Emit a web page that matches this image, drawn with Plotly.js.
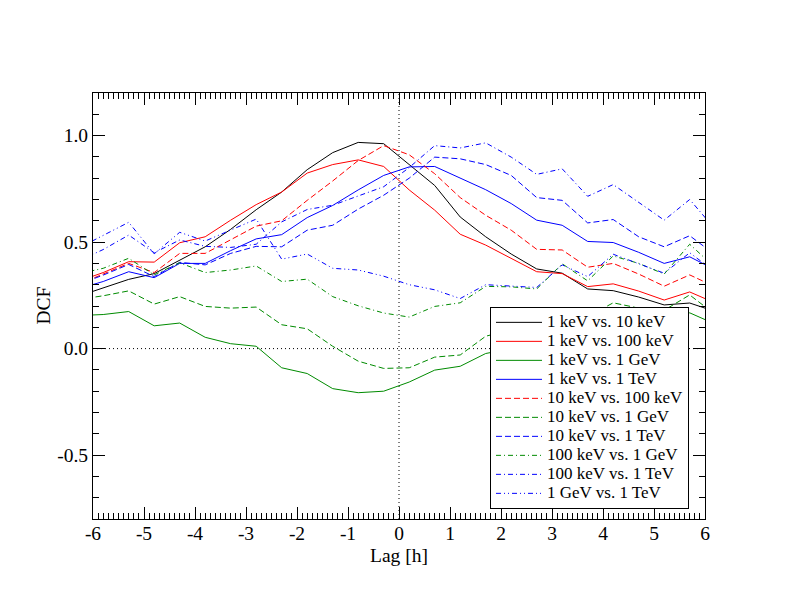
<!DOCTYPE html>
<html>
<head>
<meta charset="utf-8">
<script src="https://cdn.plot.ly/plotly-3.0.1.min.js"></script>
<style>
  body { margin: 0; background: #fff; }
  #myPlot { width: 792px; height: 612px; }
</style>
</head>
<body>
<div id="myPlot"></div>
<script>
// lag bins [h]
let lag = [-6.3, -5.8, -5.3, -4.8, -4.3, -3.8, -3.3, -2.8, -2.3, -1.8, -1.3, -0.8, -0.3,
  0.2, 0.7, 1.2, 1.7, 2.2, 2.7, 3.2, 3.7, 4.2, 4.7, 5.2, 5.7, 6.2];

// DCF values
let kev1_kev10 = [0.245, 0.285, 0.325, 0.352, 0.415, 0.478, 0.56, 0.652, 0.735, 0.84, 0.92, 0.968, 0.962,
  0.862, 0.766, 0.618, 0.525, 0.444, 0.374, 0.354, 0.28, 0.272, 0.242, 0.205, 0.214, 0.174];
let kev1_kev100 = [0.315, 0.357, 0.408, 0.406, 0.497, 0.525, 0.603, 0.676, 0.735, 0.824, 0.864, 0.886, 0.855,
  0.745, 0.65, 0.537, 0.486, 0.424, 0.361, 0.352, 0.291, 0.304, 0.27, 0.228, 0.266, 0.214];
let kev1_gev1 = [0.155, 0.16, 0.174, 0.107, 0.12, 0.053, 0.023, 0.011, -0.09, -0.117, -0.188, -0.207, -0.2,
  -0.157, -0.101, -0.083, -0.023, 0.0, 0.04, 0.07, 0.06, 0.1, 0.09, 0.11, 0.168, 0.115];
let kev1_tev1 = [0.28, 0.315, 0.361, 0.333, 0.4, 0.4, 0.46, 0.515, 0.535, 0.615, 0.672, 0.745, 0.813,
  0.853, 0.855, 0.802, 0.746, 0.681, 0.603, 0.579, 0.503, 0.498, 0.452, 0.4, 0.431, 0.37];
let kev10_kev100 = [0.30, 0.35, 0.40, 0.357, 0.447, 0.447, 0.509, 0.575, 0.60, 0.696, 0.787, 0.883, 0.953,
  0.91, 0.821, 0.709, 0.626, 0.556, 0.466, 0.463, 0.382, 0.40, 0.35, 0.293, 0.346, 0.29];
let kev10_gev1 = [0.23, 0.248, 0.271, 0.209, 0.244, 0.198, 0.19, 0.195, 0.112, 0.093, 0.011, -0.059, -0.093,
  -0.09, -0.04, -0.03, 0.058, 0.09, 0.12, 0.16, 0.15, 0.215, 0.19, 0.18, 0.252, 0.16];
let kev10_tev1 = [0.30, 0.345, 0.395, 0.338, 0.405, 0.393, 0.447, 0.48, 0.478, 0.556, 0.579, 0.655, 0.72,
  0.80, 0.899, 0.891, 0.864, 0.813, 0.709, 0.696, 0.59, 0.606, 0.525, 0.478, 0.53, 0.44];
let kev100_gev1 = [0.35, 0.377, 0.424, 0.346, 0.403, 0.357, 0.369, 0.388, 0.315, 0.326, 0.244, 0.201, 0.167,
  0.148, 0.198, 0.215, 0.292, 0.29, 0.28, 0.398, 0.318, 0.435, 0.40, 0.35, 0.49, 0.38];
let kev100_tev1 = [0.41, 0.465, 0.533, 0.45, 0.51, 0.48, 0.475, 0.49, 0.595, 0.653, 0.673, 0.715, 0.76,
  0.85, 0.953, 0.942, 0.966, 0.899, 0.818, 0.844, 0.715, 0.77, 0.688, 0.603, 0.70, 0.56];
let gev1_tev1 = [0.47, 0.53, 0.593, 0.445, 0.546, 0.505, 0.556, 0.608, 0.42, 0.444, 0.377, 0.369, 0.34,
  0.30, 0.276, 0.235, 0.30, 0.294, 0.287, 0.393, 0.338, 0.443, 0.40, 0.354, 0.45, 0.36];

let names = ['1 keV vs. 10 keV', '1 keV vs. 100 keV', '1 keV vs. 1 GeV', '1 keV vs. 1 TeV',
  '10 keV vs. 100 keV', '10 keV vs. 1 GeV', '10 keV vs. 1 TeV',
  '100 keV vs. 1 GeV', '100 keV vs. 1 TeV', '1 GeV vs. 1 TeV'];

let xTickVals = [-6, -5, -4, -3, -2, -1, 0, 1, 2, 3, 4, 5, 6];
let xTickText = ['-6', '-5', '-4', '-3', '-2', '-1', '0', '1', '2', '3', '4', '5', '6'];
let yTickVals = [-0.5, 0, 0.5, 1];
let yTickText = ['-0.5', '0.0', '0.5', '1.0'];

let series = [kev1_kev10, kev1_kev100, kev1_gev1, kev1_tev1, kev10_kev100,
  kev10_gev1, kev10_tev1, kev100_gev1, kev100_tev1, gev1_tev1];

let colors = ['#000000', '#ff0000', '#008b00', '#0000ff', '#ff0000',
  '#008b00', '#0000ff', '#008b00', '#0000ff', '#0000ff'];
let dashDot = '5px,3px,1px,3px';
let dashes = ['solid', 'solid', 'solid', 'solid', '6px,3px', '6px,3px', '6px,3px',
  dashDot, dashDot, '5px,3px,1px,3px,1px,3px'];

var data = [];
for (let i = 0; i < series.length; i++) {
  data.push({
    x: lag,
    y: series[i],
    name: '<span style="font-size:17px">' + names[i] + '</span>',
    type: 'scatter',
    mode: 'lines',
    line: { color: colors[i], width: 1, dash: dashes[i] }
  });
}

var serif = 'Liberation Serif, Times New Roman, serif';

var axisBase = {
  showline: true,
  linecolor: 'black',
  linewidth: 1,
  mirror: 'allticks',
  ticks: 'inside',
  ticklen: 12,
  tickwidth: 1,
  tickcolor: 'black',
  showgrid: false,
  zeroline: false,
  tickmode: 'array',
  tickfont: { family: serif, size: 19.5, color: 'black' }
};

var layout = {
  width: 792,
  height: 612,
  paper_bgcolor: 'white',
  plot_bgcolor: 'white',
  margin: { l: 93, r: 87, t: 93, b: 93 },
  font: { family: serif, color: 'black' },
  showlegend: true,
  xaxis: Object.assign({}, axisBase, {
    range: [-6, 6],
    tickvals: xTickVals,
    ticktext: xTickText,
    ticklabelstandoff: -3,
    minor: { tickmode: 'linear', tick0: 0, dtick: 0.1, ticks: 'inside', ticklen: 6, tickcolor: 'black', tickwidth: 1 },
    title: { text: 'Lag [h]', font: { family: serif, size: 19.5, color: 'black' }, standoff: 4 }
  }),
  yaxis: Object.assign({}, axisBase, {
    range: [-0.8, 1.2],
    tickvals: yTickVals,
    ticktext: yTickText,
    minor: { tickmode: 'linear', tick0: 0, dtick: 0.1, ticks: 'inside', ticklen: 6, tickcolor: 'black', tickwidth: 1 }
  }),
  legend: {
    x: 0.6487, y: 0.498, xanchor: 'left', yanchor: 'top',
    bgcolor: 'white', bordercolor: 'black', borderwidth: 1,
    font: { family: serif, size: 11, color: 'black' },
    tracegroupgap: 0,
    itemwidth: 46
  },
  annotations: [{
    text: 'DCF', xref: 'paper', yref: 'paper', x: -0.0825, y: 0.5,
    xanchor: 'center', yanchor: 'middle',
    textangle: -90, showarrow: false, font: { family: serif, size: 19.5, color: 'black' }
  }],
  shapes: [
    { type: 'line', xref: 'x', yref: 'paper', x0: 0, x1: 0, y0: 0, y1: 1, layer: 'below',
      line: { color: 'black', width: 1, dash: '1px,3px' } },
    { type: 'line', xref: 'paper', yref: 'y', x0: 0, x1: 1, y0: 0, y1: 0, layer: 'below',
      line: { color: 'black', width: 1, dash: '1px,3px' } }
  ]
};

Plotly.newPlot('myPlot', data, layout, { staticPlot: true });
</script>
</body>
</html>
